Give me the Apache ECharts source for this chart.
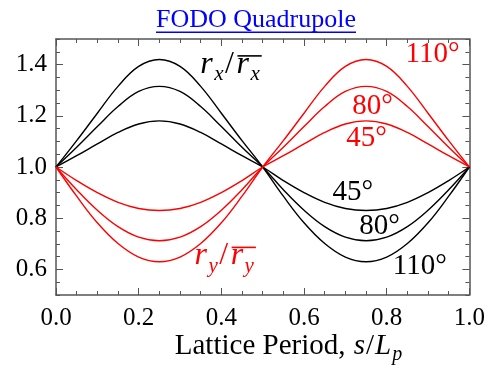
<!DOCTYPE html>
<html>
<head>
<meta charset="utf-8">
<script src="https://cdn.jsdelivr.net/npm/echarts@6/dist/echarts.min.js"></script>
<style>
html, body { margin: 0; padding: 0; background: #fff; }
#main { width: 488px; height: 368px; }
</style>
</head>
<body>
<div id="main"></div>
<script>
// lattice position s/Lp
var sPos = [0, 0.05, 0.1, 0.15, 0.2, 0.25, 0.3, 0.35, 0.4, 0.45, 0.5,
            0.55, 0.6, 0.65, 0.7, 0.75, 0.8, 0.85, 0.9, 0.95, 1.0];

// r_x / mean(r_x), black
var rx45  = [1.000, 1.044, 1.090, 1.135, 1.168, 1.180, 1.168, 1.135, 1.090, 1.044, 1.000,
             0.947, 0.900, 0.862, 0.838, 0.830, 0.838, 0.862, 0.900, 0.947, 1.000];
var rx80  = [1.000, 1.077, 1.158, 1.236, 1.295, 1.315, 1.295, 1.236, 1.158, 1.077, 1.000,
             0.911, 0.831, 0.767, 0.726, 0.712, 0.726, 0.767, 0.831, 0.911, 1.000];
var rx110 = [1.000, 1.103, 1.210, 1.315, 1.393, 1.420, 1.393, 1.315, 1.210, 1.103, 1.000,
             0.886, 0.782, 0.701, 0.648, 0.630, 0.648, 0.701, 0.782, 0.886, 1.000];

// r_y / mean(r_y), red
var ry45  = [1.000, 0.947, 0.900, 0.862, 0.838, 0.830, 0.838, 0.862, 0.900, 0.947, 1.000,
             1.044, 1.090, 1.135, 1.168, 1.180, 1.168, 1.135, 1.090, 1.044, 1.000];
var ry80  = [1.000, 0.911, 0.831, 0.767, 0.726, 0.712, 0.726, 0.767, 0.831, 0.911, 1.000,
             1.077, 1.158, 1.236, 1.295, 1.315, 1.295, 1.236, 1.158, 1.077, 1.000];
var ry110 = [1.000, 0.886, 0.782, 0.701, 0.648, 0.630, 0.648, 0.701, 0.782, 0.886, 1.000,
             1.103, 1.210, 1.315, 1.393, 1.420, 1.393, 1.315, 1.210, 1.103, 1.000];

var yTicks = [0.6, 0.8, 1.0, 1.2, 1.4];
var yMinor = [];
for (var k = 0; k <= 20; k++) yMinor.push(+(0.5 + k * 0.05).toFixed(2));

var FAMILY = 'Liberation Serif';
var RED = '#ff0000';
var AXIS = '#555';

var chartDom = document.getElementById('main');
var myChart = echarts.init(chartDom, null, { renderer: 'canvas' });

function xAxisOpt(pos, labels) {
  return {
    type: 'value', min: 0, max: 1, interval: 0.2, position: pos,
    axisLine: { show: true, lineStyle: { color: AXIS, width: 1.5 } },
    axisTick: { show: true, inside: true, length: 7, lineStyle: { color: AXIS, width: 1 } },
    minorTick: { show: true, splitNumber: 4, length: 4, lineStyle: { color: AXIS, width: 1 } },
    axisLabel: {
      show: labels, color: '#000', fontFamily: FAMILY, fontSize: 25, margin: 11,
      showMinLabel: true, showMaxLabel: true,
      formatter: function (v) { return v.toFixed(1); }
    },
    splitLine: { show: false }
  };
}

function yAxisOpt(pos, values, len, labels, line) {
  return {
    type: 'value', min: 0.5, max: 1.5, position: pos,
    axisLine: { show: line, lineStyle: { color: AXIS, width: 1.5 } },
    axisTick: { show: true, inside: true, length: len, customValues: values, lineStyle: { color: AXIS, width: 1 } },
    axisLabel: {
      show: labels, customValues: values, color: '#000', fontFamily: FAMILY, fontSize: 25, margin: 9,
      formatter: function (v) { return v.toFixed(1); }
    },
    splitLine: { show: false }
  };
}

function curve(vals, color) {
  return {
    type: 'line',
    xAxisIndex: 0, yAxisIndex: 0,
    data: sPos.map(function (s, i) { return [s, vals[i]]; }),
    showSymbol: false, smooth: 0.4, silent: true,
    lineStyle: { color: color, width: 1.4 }
  };
}

var option = {
  animation: false,
  grid: { left: 56, right: 17, top: 39, bottom: 73 },
  xAxis: [xAxisOpt('bottom', true), xAxisOpt('top', false)],
  yAxis: [
    yAxisOpt('left', yTicks, 7, true, true),
    yAxisOpt('left', yMinor, 4, false, false),
    yAxisOpt('right', yTicks, 7, false, true),
    yAxisOpt('right', yMinor, 4, false, false)
  ],
  series: [
    curve(rx45, '#000'), curve(rx80, '#000'), curve(rx110, '#000'),
    curve(ry45, RED), curve(ry80, RED), curve(ry110, RED)
  ]
};
myChart.setOption(option);

// ---- text annotations ----
var ctx = document.createElement('canvas').getContext('2d');
function tw(str, size, italic) {
  ctx.font = (italic ? 'italic ' : '') + size + 'px "' + FAMILY + '"';
  return ctx.measureText(str).width;
}

// one text run, placed by its left edge (or centre) and baseline
function run(str, x, yb, size, italic, color, align) {
  return {
    type: 'text', silent: true,
    style: {
      text: str, x: x, y: yb - 0.33 * size, fill: color,
      fontFamily: FAMILY, fontSize: size, fontStyle: italic ? 'italic' : 'normal',
      textAlign: align || 'left', textVerticalAlign: 'middle'
    }
  };
}

// r_sub / overline(r_sub)
function ratioLabel(sub, color, x0, yb) {
  var big = 32, small = 21, els = [];
  var x = x0;
  els.push(run('r', x, yb, big, true, color)); x += tw('r', big, true) + 1.5;
  els.push(run(sub, x, yb + 6.5, small, true, color)); x += tw(sub, small, true) + 1.5;
  els.push(run('/', x, yb, big, false, color)); x += tw('/', big, false) + 2.5;
  var ox = x;
  els.push(run('r', x, yb, big, true, color)); x += tw('r', big, true) + 1.5;
  els.push(run(sub, x, yb + 6.5, small, true, color)); x += tw(sub, small, true);
  els.push({ type: 'rect', silent: true, shape: { x: ox + 1, y: yb - 20, width: x - ox + 1, height: 1.6 }, style: { fill: color } });
  return els;
}

// annotation anchors in data space [s, value] (centre of the digits)
var phaseText = ['110°', '80°', '45°', '45°', '80°', '110°'];
var phaseColor = [RED, RED, RED, '#000', '#000', '#000'];
var phaseAt = [[0.911, 1.441], [0.766, 1.238], [0.751, 1.111], [0.718, 0.902], [0.783, 0.770], [0.880, 0.613]];
var rxAt = [0.349, 1.359];
var ryAt = [0.335, 0.611];

function px(p) { return myChart.convertToPixel({ gridIndex: 0 }, p); }

var g = [];
phaseAt.forEach(function (p, i) {
  var q = px(p);
  // baseline sits ~0.34em under the digit centre
  g.push(run(phaseText[i], q[0], q[1] + 0.34 * 29, 29, false, phaseColor[i], 'center'));
});
var a = px(rxAt);
g = g.concat(ratioLabel('x', '#000', a[0], a[1]));
a = px(ryAt);
g = g.concat(ratioLabel('y', RED, a[0], a[1]));

// title, underlined
var tSize = 26;
var tWidth = tw('FODO Quadrupole', tSize, false);
g.push(run('FODO Quadrupole', 256 - tWidth / 2, 29, tSize, false, '#0000ff'));
g.push({ type: 'rect', silent: true, shape: { x: 256 - tWidth / 2, y: 31.5, width: tWidth, height: 1.5 }, style: { fill: '#0000ff' } });

// x axis title: Lattice Period, s/L_p
var parts = [
  ['Lattice Period, ', 29, false, 0],
  ['s', 29, true, 0],
  ['/', 29, false, 0],
  ['L', 29, true, 0],
  ['p', 20, true, 5]
];
var total = 0;
parts.forEach(function (p) { total += tw(p[0], p[1], p[2]) + 1; });
var xx = 289 - total / 2;
parts.forEach(function (p) {
  g.push(run(p[0], xx, 356 + p[3], p[1], p[2], '#000'));
  xx += tw(p[0], p[1], p[2]) + 1;
});

myChart.setOption({ graphic: g });
</script>
</body>
</html>
